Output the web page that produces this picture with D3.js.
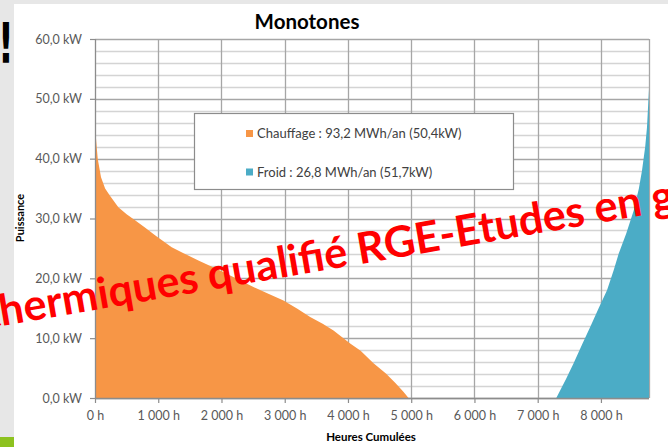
<!DOCTYPE html>
<html>
<head>
<meta charset="utf-8">
<script src="https://cdn.jsdelivr.net/npm/d3@7"></script>
<style>
  html, body { margin: 0; padding: 0; background: #fff; }
  svg { display: block; font-family: Lato, "Open Sans", sans-serif; }
</style>
</head>
<body>
<svg id="chart" width="668" height="447"></svg>
<script>
// Load duration curves ("monotones")
var heatHours = [0, 15, 43, 95, 160, 237, 369, 500, 633, 800, 949, 1213, 1400, 1635, 1978,
                 2250, 2505, 2750, 2980, 3200, 3402, 3600, 3771, 4035, 4200, 4404, 4600, 4750, 4880, 4958];
var heatKW    = [45.5, 43.5, 40, 36.9, 35, 33.8, 31.9, 30.7, 29.7, 28.4, 27.2, 25.2, 24.2, 23.0, 21.3,
                 19.9, 18.55, 17.4, 16.3, 14.9, 13.55, 12.4, 11.3, 9.1, 7.9, 5.8, 4.1, 2.5, 1.0, 0];

var coolHours = [7294, 7450, 7568, 7700, 7832, 7960, 8096, 8200, 8280, 8400, 8517, 8600, 8649, 8700, 8728, 8760];
var coolKW    = [0, 3.2, 5.8, 8.9, 11.9, 14.9, 18, 21.3, 24.1, 27.5, 31.3, 35, 38, 42, 45.2, 51.7];

var xTicks = [0, 1000, 2000, 3000, 4000, 5000, 6000, 7000, 8000];
var yTicks = [0, 10, 20, 30, 40, 50, 60];
var legendLabels = ["Chauffage : 93,2 MWh/an (50,4kW)", "Froid : 26,8 MWh/an (51,7kW)"];
var seriesColors = ["#f79646", "#4bacc6"];

var svg = d3.select("#chart");

// slide background bits
svg.append("rect").attr("x", 0).attr("y", 0).attr("width", 668).attr("height", 447).attr("fill", "#e7e7e7");
svg.append("rect").attr("x", 14).attr("y", 4).attr("width", 654).attr("height", 443).attr("fill", "#ffffff");
svg.append("rect").attr("x", 0).attr("y", 437).attr("width", 14).attr("height", 10).attr("fill", "#8dc21f");
svg.append("text").attr("transform", "translate(6,62) scale(0.62,1)").attr("text-anchor", "middle")
  .style("font-family", "'DejaVu Sans', sans-serif").style("font-weight", "bold")
  .style("font-size", "56px").attr("fill", "#000").text("!");

// scales
var x = d3.scaleLinear().domain([0, 8760]).range([95, 649]);
var y = d3.scaleLinear().domain([0, 60]).range([398, 39]);

// horizontal grid, every 2 kW
var minor = d3.range(0, 62, 2);
svg.append("g").selectAll("line").data(minor).enter().append("line")
  .attr("x1", x(0)).attr("x2", x(8760))
  .attr("y1", function(d) { return Math.round(y(d)) + 0.5; })
  .attr("y2", function(d) { return Math.round(y(d)) + 0.5; })
  .attr("stroke", function(d) { return d % 10 == 0 ? "#a6a6a6" : "#d4d4d4"; })
  .attr("stroke-width", function(d) { return d % 10 == 0 ? 1.4 : 1.3; });

// vertical grid
svg.append("g").selectAll("line").data(xTicks.slice(1).concat([8760])).enter().append("line")
  .attr("x1", function(d) { return Math.round(x(d)) + 0.5; })
  .attr("x2", function(d) { return Math.round(x(d)) + 0.5; })
  .attr("y1", y(60)).attr("y2", y(0))
  .attr("stroke", "#a6a6a6").attr("stroke-width", 1.3);

// areas
var area = d3.area()
  .x(function(d) { return x(d[0]); })
  .y0(y(0))
  .y1(function(d) { return y(d[1]); });

var heatData = heatHours.map(function(h, i) { return [h, heatKW[i]]; });
var coolData = coolHours.map(function(h, i) { return [h, coolKW[i]]; });

svg.append("path").datum(heatData).attr("d", area).attr("fill", seriesColors[0]);
svg.append("path").datum(coolData).attr("d", area).attr("fill", seriesColors[1]);

// axes
var yAxis = svg.append("g")
  .attr("transform", "translate(" + x(0) + ",0)")
  .call(d3.axisLeft(y).tickValues(yTicks).tickSize(5).tickPadding(8)
    .tickFormat(function(d) { return d3.format(".1f")(d).replace(".", ",") + " kW"; }));

var xAxis = svg.append("g")
  .attr("transform", "translate(0," + y(0) + ")")
  .call(d3.axisBottom(x).tickValues(xTicks).tickSize(5).tickPadding(8)
    .tickFormat(function(d) {
      var s = d >= 1000 ? Math.floor(d / 1000) + " " + d3.format("03d")(d % 1000) : String(d);
      return s + " h";
    }));

[xAxis, yAxis].forEach(function(ax) {
  ax.select(".domain").attr("stroke", "#8c8c8c").attr("stroke-width", 1.3);
  ax.selectAll(".tick line").attr("stroke", "#8c8c8c").attr("stroke-width", 1.2);
  ax.selectAll(".tick text").attr("fill", "#595959")
    .style("font-family", "Lato, sans-serif").style("font-size", "12.5px");
});
xAxis.select(".domain").attr("d", "M" + x(0) + ",0.5H" + x(8760));
yAxis.select(".domain").attr("d", "M0.5," + y(0) + "V" + y(60));

// title
svg.append("text").attr("x", 307).attr("y", 29).attr("text-anchor", "middle")
  .style("font-weight", "bold").style("font-size", "20.5px").attr("fill", "#000")
  .text("Monotones");

// axis titles
svg.append("text").attr("transform", "translate(24,218) rotate(-90)")
  .attr("text-anchor", "middle").style("font-weight", "bold").style("font-size", "11px")
  .attr("fill", "#000").text("Puissance");

svg.append("text").attr("x", 371).attr("y", 441).attr("text-anchor", "middle")
  .style("font-weight", "bold").style("font-size", "11.5px").attr("fill", "#000")
  .text("Heures Cumulées");

// legend
var legend = svg.append("g");
legend.append("rect").attr("x", 194.5).attr("y", 113.5).attr("width", 319).attr("height", 76)
  .attr("fill", "#fff").attr("stroke", "#8c8c8c").attr("stroke-width", 1.2);

var items = legend.selectAll("g.item").data(legendLabels).enter().append("g")
  .attr("class", "item")
  .attr("transform", function(d, i) { return "translate(246," + (133.5 + i * 38.5) + ")"; });

items.append("rect").attr("x", 0).attr("y", -3.5).attr("width", 7).attr("height", 7)
  .attr("fill", function(d, i) { return seriesColors[i]; });
items.append("text").attr("x", 11).attr("y", 4.5)
  .style("font-size", "13px").attr("fill", "#404040")
  .text(function(d) { return d; });

// red watermark over the chart
var wm = svg.append("g").attr("transform", "translate(210,290) rotate(-9.8)")
  .style("font-family", "Lato, sans-serif").style("font-weight", "bold").attr("fill", "#ff0000");
var probe = wm.append("text").style("font-size", "45px").text("qualifié RGE-Etudes en");
var fs = 45 * 440 / probe.node().getComputedTextLength();
probe.remove();
wm.append("text").attr("x", -fs * 0.23).attr("y", 0).attr("text-anchor", "end")
  .style("font-size", fs + "px").text("thermiques");
wm.append("text").attr("x", 0).attr("y", 0)
  .style("font-size", fs + "px")
  .text("qualifié RGE-Etudes en génie climatique");
</script>
</body>
</html>
